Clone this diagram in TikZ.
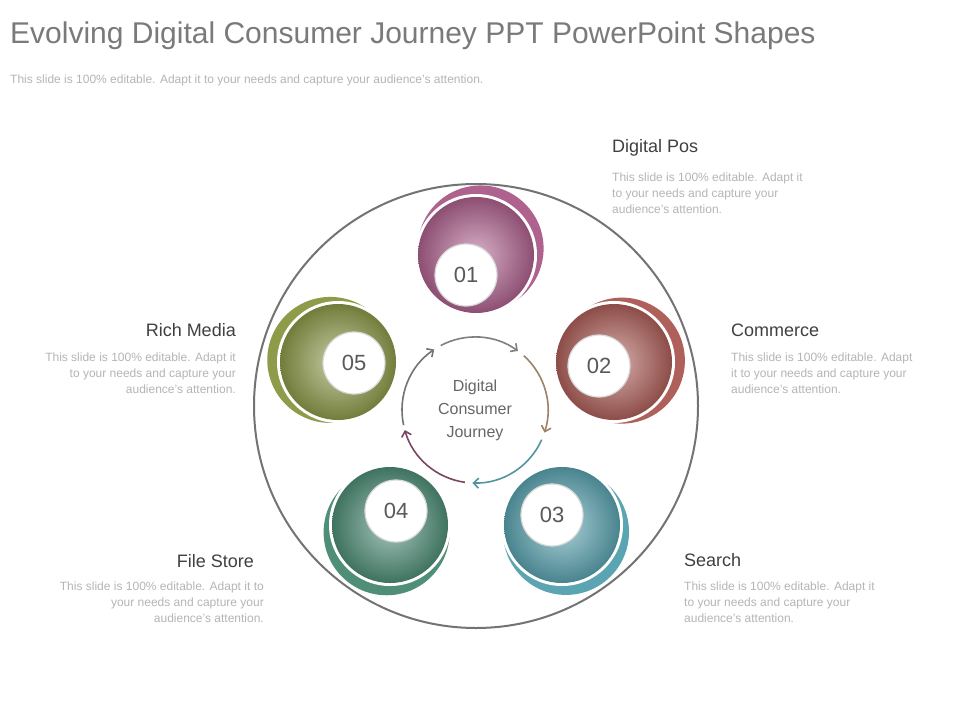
\documentclass[tikz,border=0pt]{standalone}
\usepackage{fontspec}
\setmainfont{Liberation Sans}
\usetikzlibrary{arrows.meta,calc}
\definecolor{cA}{HTML}{B0628F}
\definecolor{cB}{HTML}{B0605A}
\definecolor{cC}{HTML}{5BA5B2}
\definecolor{cD}{HTML}{4F8F78}
\definecolor{cE}{HTML}{8E9C4A}
\definecolor{tgray}{HTML}{7A7A7A}
\definecolor{lgray}{HTML}{B5B5B5}
\tikzset{
 title/.style={font=\fontsize{30}{34}\selectfont, text=tgray, anchor=west, inner sep=0},
 head/.style={font=\fontsize{18}{20}\selectfont, text=black!75, inner sep=0},
 desc/.style={font=\fontsize{12}{16}\selectfont, text=lgray, inner sep=0, align=left, anchor=north west},
 descr/.style={font=\fontsize{12}{16}\selectfont, text=lgray, inner sep=0, align=right, anchor=north east},
 num/.style={circle, minimum size=62pt, fill=white, draw=black!15, line width=1.2pt, font=\fontsize{22}{24}\selectfont, text=black!65},
 ring/.style={line width=1.6pt, -{Straight Barb[length=5pt,width=10pt]}}
}
\begin{document}
\begin{tikzpicture}[x=1pt,y=-1pt]
\useasboundingbox (0,0) rectangle (960,720);
\fill[white] (0,0) rectangle (960,720);
\node[title] (t) at (10,36) {Evolving Digital Consumer Journey PPT PowerPoint Shapes};
\node[font=\fontsize{12}{14}\selectfont, text=lgray, anchor=west, inner sep=0] (st) at (10,80) {This slide is 100\% editable. Adapt it to your needs and capture your audience's attention.};
\node[circle, draw=black!55, line width=2pt, minimum size=444pt, fill=white] (big) at (476,406) {};
\fill[cA] ($(476,255)+(-55:8)$) circle (63);
\fill[white] (476,255) circle (61);
\shade[inner color=cA!50!white, outer color=cA!80!black] (476,255) circle (58);
\node[num] (n1) at (466,275) {01};
\fill[cB] ($(614,362)+(-10:8)$) circle (63);
\fill[white] (614,362) circle (61);
\shade[inner color=cB!50!white, outer color=cB!80!black] (614,362) circle (58);
\node[num] (n2) at (599,366) {02};
\fill[cC] ($(562,525)+(60:8)$) circle (63);
\fill[white] (562,525) circle (61);
\shade[inner color=cC!50!white, outer color=cC!80!black] (562,525) circle (58);
\node[num] (n3) at (552,515) {03};
\fill[cD] ($(390,525)+(115:8)$) circle (63);
\fill[white] (390,525) circle (61);
\shade[inner color=cD!50!white, outer color=cD!80!black] (390,525) circle (58);
\node[num] (n4) at (396,511) {04};
\fill[cE] ($(338,362)+(-165:8)$) circle (63);
\fill[white] (338,362) circle (61);
\shade[inner color=cE!50!white, outer color=cE!80!black] (338,362) circle (58);
\node[num] (n5) at (354,363) {05};
\node[align=center, font=\fontsize{16}{23}\selectfont, text=black!60] (c) at (475,410) {Digital\\Consumer\\Journey};
\begin{scope}[shift={(475,410)}, yscale=-1]
\draw[ring, draw=black!55] (192:73) arc (192:124:73);
\draw[ring, draw=black!50] (118:73) arc (118:54:73);
\draw[ring, draw=brown!60!black!70] (48:73) arc (48:-18:73);
\draw[ring, draw=cC!90!black] (-24:73) arc (-24:-92:73);
\draw[ring, draw=cA!70!black] (-98:73) arc (-98:-164:73);
\end{scope}
\node[head, anchor=west] (h1) at (612,148) {Digital Pos};
\node[desc] (d1) at (612,173) {This slide is 100\% editable. Adapt it\\to your needs and capture your\\audience's attention.};
\node[head, anchor=west] (h2) at (731,330) {Commerce};
\node[desc] (d2) at (731,353) {This slide is 100\% editable. Adapt\\it to your needs and capture your\\audience's attention.};
\node[head, anchor=west] (h3) at (684,560) {Search};
\node[desc] (d3) at (684,582) {This slide is 100\% editable. Adapt it\\to your needs and capture your\\audience's attention.};
\node[head, anchor=east] (h4) at (254,561) {File Store};
\node[descr] (d4) at (264,582) {This slide is 100\% editable. Adapt it to\\your needs and capture your\\audience's attention.};
\node[head, anchor=east] (h5) at (236,330) {Rich Media};
\node[descr] (d5) at (236,353) {This slide is 100\% editable. Adapt it\\to your needs and capture your\\audience's attention.};
\end{tikzpicture}
\end{document}
